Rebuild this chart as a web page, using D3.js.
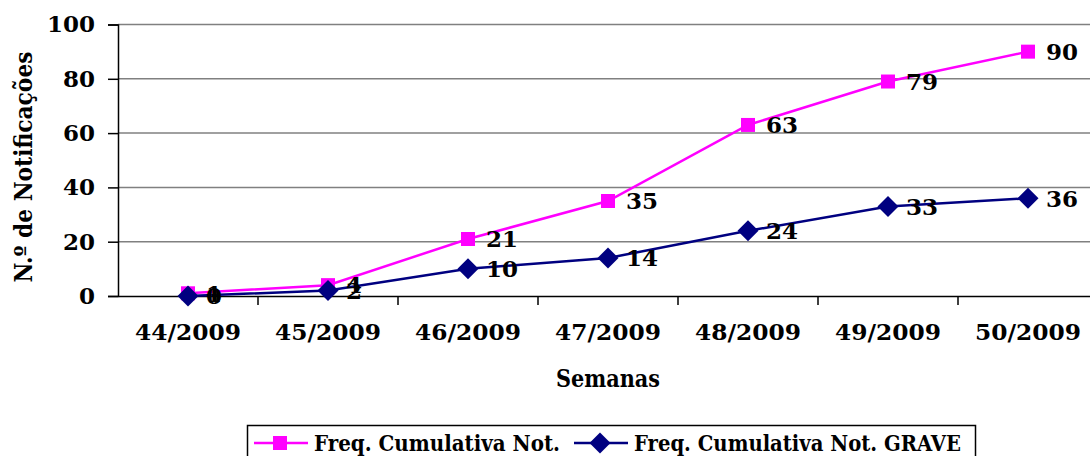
<!DOCTYPE html>
<html>
<head>
<meta charset="utf-8">
<script src="https://cdn.jsdelivr.net/npm/d3@7"></script>
<style>
  body { margin: 0; background: #fff; }
  svg { display: block; }
</style>
</head>
<body>
<svg id="chart" width="1090" height="456"></svg>
<script>
"use strict";

/* global d3 */
var weeks = ["44/2009", "45/2009", "46/2009", "47/2009", "48/2009", "49/2009", "50/2009"];
var totalNot = [1, 4, 21, 35, 63, 79, 90];
var graveNot = [0, 2, 10, 14, 24, 33, 36];
var yTicks = [0, 20, 40, 60, 80, 100];

var serif = "'DejaVu Serif', 'Liberation Serif', serif";

var svg = d3.select("#chart");
var m = { left: 118, top: 24.5, right: 1098, bottom: 296 };

var x = d3.scaleBand().domain(weeks).range([m.left, m.right]);
var y = d3.scaleLinear().domain([0, 100]).range([m.bottom, m.top]);

// diamond = square turned 45 degrees
var diamond = {
    draw: function (ctx, size) {
        var r = Math.sqrt(size / 2);
        ctx.moveTo(0, -r);
        ctx.lineTo(r, 0);
        ctx.lineTo(0, r);
        ctx.lineTo(-r, 0);
        ctx.closePath();
    }
};

// grid
svg.append("g").selectAll("line")
    .data(yTicks.filter(function (d) { return d > 0; }))
    .join("line")
    .attr("x1", m.left).attr("x2", m.right)
    .attr("y1", function (d) { return y(d); })
    .attr("y2", function (d) { return y(d); })
    .attr("stroke", "#808080").attr("stroke-width", 1.5);

// y axis
var yAxis = svg.append("g")
    .attr("transform", "translate(" + m.left + ",0)")
    .call(d3.axisLeft(y).tickValues(yTicks).tickSize(10).tickPadding(13));
yAxis.select(".domain").attr("stroke", "#000").attr("stroke-width", 1.5);
yAxis.selectAll(".tick line").attr("stroke", "#000").attr("stroke-width", 1.5);
yAxis.selectAll("text")
    .attr("font-family", serif).attr("font-weight", "bold")
    .attr("font-size", 23).attr("fill", "#000");

// x axis
var xAxis = svg.append("g")
    .attr("transform", "translate(0," + m.bottom + ")")
    .call(d3.axisBottom(x).tickSize(0).tickPadding(28));
xAxis.select(".domain").attr("stroke", "#000").attr("stroke-width", 1.5);
xAxis.selectAll("text")
    .attr("font-family", serif).attr("font-weight", "bold")
    .attr("font-size", 23).attr("fill", "#000")
    .attr("textLength", 106).attr("lengthAdjust", "spacingAndGlyphs");
svg.append("g").selectAll("line")
    .data(weeks.slice(1))
    .join("line")
    .attr("x1", function (d) { return x(d); })
    .attr("x2", function (d) { return x(d); })
    .attr("y1", m.bottom).attr("y2", m.bottom + 9)
    .attr("stroke", "#000").attr("stroke-width", 1.5);

// axis titles
svg.append("text")
    .attr("x", 608).attr("y", 387)
    .attr("text-anchor", "middle")
    .attr("font-family", serif).attr("font-weight", "bold")
    .attr("font-size", 24)
    .attr("textLength", 104).attr("lengthAdjust", "spacingAndGlyphs")
    .text("Semanas");
svg.append("text")
    .attr("transform", "translate(32,167) rotate(-90)")
    .attr("text-anchor", "middle")
    .attr("font-family", serif).attr("font-weight", "bold")
    .attr("font-size", 24)
    .attr("textLength", 231).attr("lengthAdjust", "spacingAndGlyphs")
    .text("N.º de Notificações");

var line = d3.line()
    .x(function (d, i) { return x(weeks[i]) + x.bandwidth() / 2; })
    .y(function (d) { return y(d); });

var series = [
    { name: "Freq. Cumulativa Not.", values: totalNot, color: "#FF00FF", shape: d3.symbolSquare, size: 196, textW: 246 },
    { name: "Freq. Cumulativa Not. GRAVE", values: graveNot, color: "#000080", shape: diamond, size: 220, textW: 327 }
];

series.forEach(function (s) {
    svg.append("path")
        .datum(s.values)
        .attr("fill", "none")
        .attr("stroke", s.color)
        .attr("stroke-width", 2.5)
        .attr("d", line);

    svg.append("g").selectAll("path")
        .data(s.values)
        .join("path")
        .attr("transform", function (d, i) {
            return "translate(" + (x(weeks[i]) + x.bandwidth() / 2) + "," + y(d) + ")";
        })
        .attr("d", d3.symbol().type(s.shape).size(s.size))
        .attr("fill", s.color);
});

series.forEach(function (s) {
    svg.append("g").selectAll("text")
        .data(s.values)
        .join("text")
        .attr("x", function (d, i) { return x(weeks[i]) + x.bandwidth() / 2 + 18; })
        .attr("y", function (d) { return y(d); })
        .attr("dy", "0.36em")
        .attr("font-family", serif).attr("font-weight", "bold")
        .attr("font-size", 23).attr("fill", "#000")
        .text(function (d) { return d; });
});

// legend
var legend = svg.append("g");
legend.append("rect")
    .attr("x", 247.5).attr("y", 425.5).attr("width", 728).attr("height", 40)
    .attr("fill", "#fff").attr("stroke", "#000").attr("stroke-width", 1.5);

var legendPos = [254, 574];
series.forEach(function (s, i) {
    var g = legend.append("g").attr("transform", "translate(" + legendPos[i] + ",443)");
    g.append("line").attr("x1", 0).attr("x2", 54)
        .attr("stroke", s.color).attr("stroke-width", 2.5);
    g.append("path").attr("transform", "translate(26,0)")
        .attr("d", d3.symbol().type(s.shape).size(s.size))
        .attr("fill", s.color);
    g.append("text").attr("x", 60).attr("dy", "0.38em")
        .attr("font-family", serif).attr("font-weight", "bold")
        .attr("font-size", 22)
        .attr("textLength", s.textW).attr("lengthAdjust", "spacingAndGlyphs")
        .text(s.name);
});
</script>
</body>
</html>
